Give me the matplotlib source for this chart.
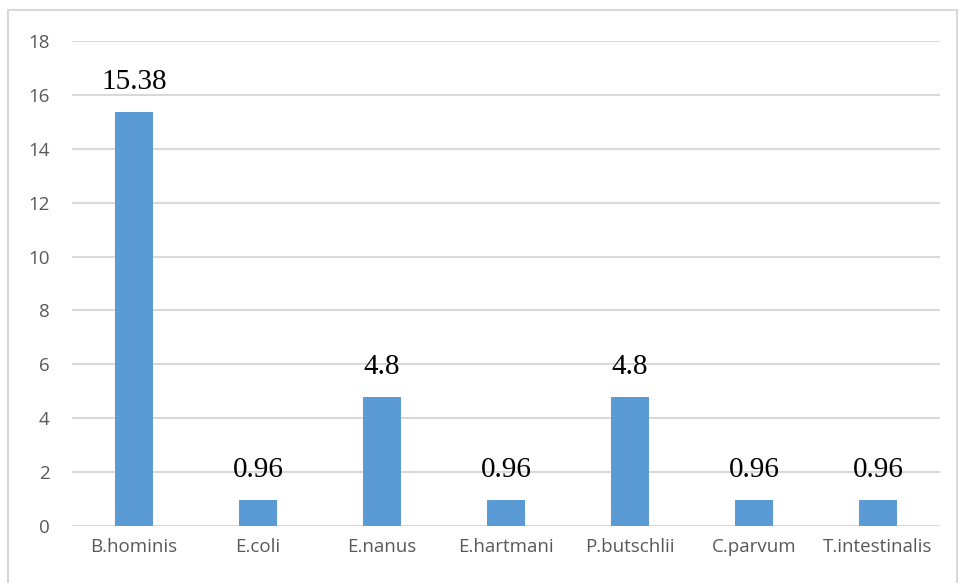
import matplotlib
matplotlib.use('Agg')
import matplotlib.pyplot as plt
from matplotlib.patches import Rectangle

# 寄生虫ごとの検出率 (%)
species = ['B.hominis', 'E.coli', 'E.nanus', 'E.hartmani',
           'P.butschlii', 'C.parvum', 'T.intestinalis']
rates = [15.38, 0.96, 4.8, 0.96, 4.8, 0.96, 0.96]
rate_labels = ['15.38', '0.96', '4.8', '0.96', '4.8', '0.96', '0.96']
y_ticks = [0, 2, 4, 6, 8, 10, 12, 14, 16, 18]

BAR_COLOR = '#5B9BD5'
GRID_COLOR = '#D9D9D9'
TICK_COLOR = '#595959'

fig = plt.figure(figsize=(9.59, 5.83), dpi=100)
ax = fig.add_axes([72 / 959, 57 / 583, 868 / 959, 485 / 583])

x = list(range(len(species)))
bars = ax.bar(x, rates, width=0.31, color=BAR_COLOR, zorder=3)

# 値ラベル (Times 風)
for rect, txt in zip(bars, rate_labels):
    ax.annotate(txt, (rect.get_x() + rect.get_width() / 2, rect.get_height()),
                xytext=(0, 12), textcoords='offset points',
                ha='center', va='bottom', fontsize=21,
                family=['Liberation Serif', 'DejaVu Serif'], color='black')

ax.set_xlim(-0.5, len(species) - 0.5)
ax.set_ylim(0, 18)
ax.set_yticks(y_ticks)
ax.yaxis.grid(True, color=GRID_COLOR, linewidth=1.5, zorder=0)
ax.set_axisbelow(True)

for s in ax.spines.values():
    s.set_visible(False)
ax.tick_params(axis='both', length=0, colors=TICK_COLOR, labelsize=13.5)
ax.tick_params(axis='y', pad=16)
ax.tick_params(axis='x', pad=9)
ax.set_xticks(x)
ax.set_xticklabels(species)
for lab in ax.get_xticklabels() + ax.get_yticklabels():
    lab.set_family(['Open Sans', 'DejaVu Sans'])

# 外枠
fig.patches.append(Rectangle((8 / 959, -0.01), 949 / 959, 1 - 10 / 583 + 0.01,
                             transform=fig.transFigure, fill=False,
                             edgecolor=GRID_COLOR, linewidth=1.5))

fig.savefig('out.png', dpi=100)
